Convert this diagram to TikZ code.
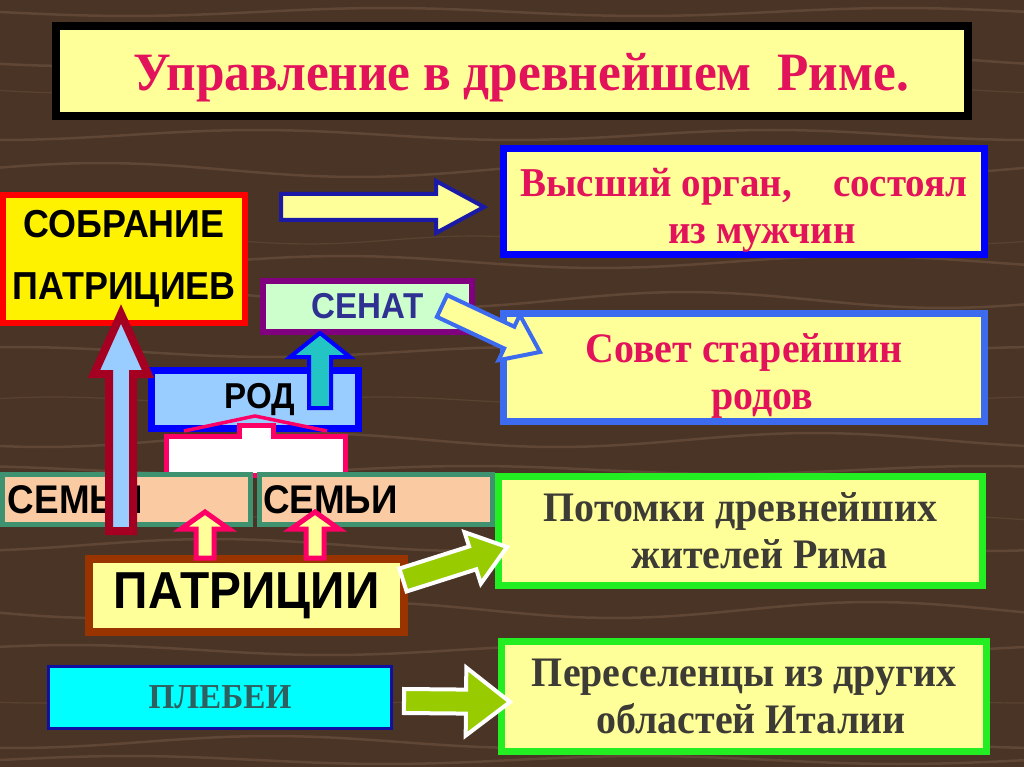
\documentclass[tikz,border=0pt]{standalone}
\usepackage{fontspec}
\setmainfont{Liberation Serif}
\newfontfamily\srf[FakeStretch=0.95]{Liberation Serif}
\newfontfamily\sns[FakeStretch=0.92]{Liberation Sans}
\usetikzlibrary{calc}
\definecolor{bgwood}{HTML}{4A3426}
\definecolor{grainc}{HTML}{8A6D52}
\definecolor{paley}{HTML}{FFFF99}
\definecolor{crim}{HTML}{E3135B}
\definecolor{dgray}{HTML}{3D3B35}
\definecolor{navy}{HTML}{1A1AA6}
\definecolor{rblue}{HTML}{0000FF}
\definecolor{lblue}{HTML}{3D6BF0}
\definecolor{purp}{HTML}{800080}
\definecolor{mint}{HTML}{CCFFCC}
\definecolor{senatc}{HTML}{2E3192}
\definecolor{skyb}{HTML}{99CCFF}
\definecolor{teal2}{HTML}{22C4C4}
\definecolor{pinkc}{HTML}{FF0066}
\definecolor{semib}{HTML}{3E9270}
\definecolor{peach}{HTML}{FACBA2}
\definecolor{brownc}{HTML}{993300}
\definecolor{darkred}{HTML}{A50021}
\definecolor{limeg}{HTML}{99CC00}
\definecolor{brg}{HTML}{22EE22}
\definecolor{plebt}{HTML}{2F5F5F}
\definecolor{plebb}{HTML}{1010A0}
\definecolor{cyanf}{HTML}{00FFFF}
\tikzset{
  box/.style={draw, rectangle, inner sep=0pt, outer sep=0pt, align=center},
  sanslab/.style={font=\sns\bfseries\fontsize{#1}{#1}\selectfont, text=black},
  seriflab/.style={font=\srf\bfseries\fontsize{#1}{47}\selectfont},
  grain/.style={draw=grainc, opacity=0.35, line width=2.5pt},
  barrow/.style={line width=4pt, line join=miter},
}
\newcommand\blockarrow[6]{%
  \coordinate (ba-h) at ($(#3)!#6!(#2)$);
  \draw[#1] ($(#2)!#4!90:(#3)$) -- ($(ba-h)!#4!90:(#3)$) -- ($(ba-h)!#5!90:(#3)$) -- (#3)
    -- ($(ba-h)!#5!-90:(#3)$) -- ($(ba-h)!#4!-90:(#3)$) -- ($(#2)!#4!-90:(#3)$) -- cycle;
}
\begin{document}
\begin{tikzpicture}[x=1pt,y=-1pt]
\useasboundingbox (0,0) rectangle (1024,767);
\fill[bgwood] (0,0) rectangle (1024,767);
% wood grain
\foreach \yy/\ph/\am in {12/0/4, 60/40/6, 135/90/5, 170/200/7, 262/30/6, 300/150/8, 352/260/5, 440/60/7, 470/300/4, 545/120/6, 610/20/8, 650/220/5, 742/80/6, 760/180/4}{
  \draw[grain] plot[domain=0:1024, samples=50] (\x, {\yy + \am*sin(0.7*\x + \ph)});
}
\foreach \yy/\ph/\am in {90/10/3, 240/110/4, 400/210/3, 520/310/4, 700/50/3}{
  \draw[grain, line width=1.2pt, opacity=0.25] plot[domain=0:1024, samples=50] (\x, {\yy + \am*sin(1.1*\x + \ph)});
}

% title
\node[box, line width=8pt, draw=black, fill=paley, minimum width=912pt, minimum height=90pt] (title) at (512,71) {};
\node[seriflab=54, text=crim] (titlet) at (521,78) {Управление в древнейшем\ \ Риме.};

% right boxes
\node[box, line width=7pt, draw=rblue, fill=paley, minimum width=481pt, minimum height=106pt,
      seriflab=41, text=crim] (vyssh) at (744,201.5) {\rule{0pt}{46pt}Высший орган,\quad состоял\\\hspace*{36pt}из мужчин};
\node[box, line width=7pt, draw=lblue, fill=paley, minimum width=481pt, minimum height=108pt,
      seriflab=42, text=crim] (sovet) at (744,367.5) {\rule{0pt}{46pt}Совет старейшин\\\hspace*{36pt}родов};
\node[box, line width=7pt, draw=brg, fill=paley, minimum width=484pt, minimum height=109pt,
      seriflab=42, text=dgray] (potomki) at (740.5,531) {Потомки древнейших\\\hspace*{38pt}жителей Рима};
\node[box, line width=7pt, draw=brg, fill=paley, minimum width=485pt, minimum height=110pt,
      seriflab=42, text=dgray] (peres) at (744,696.5) {Переселенцы из других\\\hspace*{14pt}областей Италии};

% left structure
\node[box, line width=6pt, draw=red, fill=yellow, minimum width=242pt, minimum height=128pt,
      font=\sns\bfseries\fontsize{39}{62}\selectfont] (sobr) at (124,259) {СОБРАНИЕ\\ПАТРИЦИЕВ};
\node[box, line width=6pt, draw=purp, fill=mint, minimum width=209pt, minimum height=51pt,
      sanslab=36, text=senatc] (senat) at (367.5,306.5) {СЕНАТ};
\node[box, line width=7pt, draw=rblue, fill=skyb, minimum width=207pt, minimum height=58pt,
      sanslab=36] (rod) at (255,399.5) {\hspace*{10pt}РОД};

% house shape under rod
\draw[pinkc, line width=3.5pt] (184,431) -- (255,416) -- (327,431);
\draw[pinkc, fill=white, line width=5pt, line join=miter] (166,475) -- (166,436) -- (239,436) -- (239,425)
   -- (273,425) -- (273,436) -- (345,436) -- (345,475) -- cycle;

\node[box, line width=5pt, draw=semib, fill=peach, minimum width=248pt, minimum height=50pt,
      sanslab=40, text width=237pt, align=left, inner xsep=5.5pt] (semi1) at (126.5,499.5) {СЕМЬИ};
\node[box, line width=5pt, draw=semib, fill=peach, minimum width=230pt, minimum height=50pt,
      sanslab=40, text width=225pt, align=left, inner xsep=4pt] (semi2) at (375.5,499.5) {СЕМЬИ};

\node[box, line width=8pt, draw=brownc, fill=paley, minimum width=315pt, minimum height=73pt,
      sanslab=52] (patr) at (246.5,595.5) {ПАТРИЦИИ};
\node[box, line width=3pt, draw=plebb, fill=cyanf, minimum width=343pt, minimum height=62pt,
      seriflab=35, text=plebt] (pleb) at (220,697.5) {ПЛЕБЕИ};

% arrows
\coordinate (a1s) at (281,207);  \coordinate (a1e) at (484,207);
\blockarrow{barrow, draw=navy, fill=paley}{a1s}{a1e}{13pt}{26pt}{48pt}

\coordinate (a2s) at (442,306);  \coordinate (a2e) at (540,352);
\blockarrow{barrow, draw=lblue, fill=paley}{a2s}{a2e}{12pt}{25pt}{34pt}

\coordinate (a3s) at (403,580);  \coordinate (a3e) at (507,547);
\blockarrow{barrow, draw=white, fill=limeg}{a3s}{a3e}{12pt}{27pt}{36pt}

\coordinate (a4s) at (404,701);  \coordinate (a4e) at (510,702);
\blockarrow{barrow, draw=white, fill=limeg}{a4s}{a4e}{12pt}{34pt}{44pt}

\coordinate (a5s) at (121,531);  \coordinate (a5e) at (121,314);
\blockarrow{line width=8pt, line join=miter, draw=darkred, fill=skyb}{a5s}{a5e}{12pt}{27pt}{60pt}

\coordinate (a6s) at (320,408);  \coordinate (a6e) at (320,333);
\blockarrow{barrow, draw=rblue, fill=teal2}{a6s}{a6e}{11pt}{30pt}{24pt}

\coordinate (a7s) at (205,558);  \coordinate (a7e) at (205,512);
\blockarrow{line width=5pt, line join=miter, draw=pinkc, fill=paley}{a7s}{a7e}{9pt}{24pt}{17pt}
\coordinate (a8s) at (315,558);  \coordinate (a8e) at (315,512);
\blockarrow{line width=5pt, line join=miter, draw=pinkc, fill=paley}{a8s}{a8e}{9pt}{24pt}{17pt}
\end{tikzpicture}
\end{document}
